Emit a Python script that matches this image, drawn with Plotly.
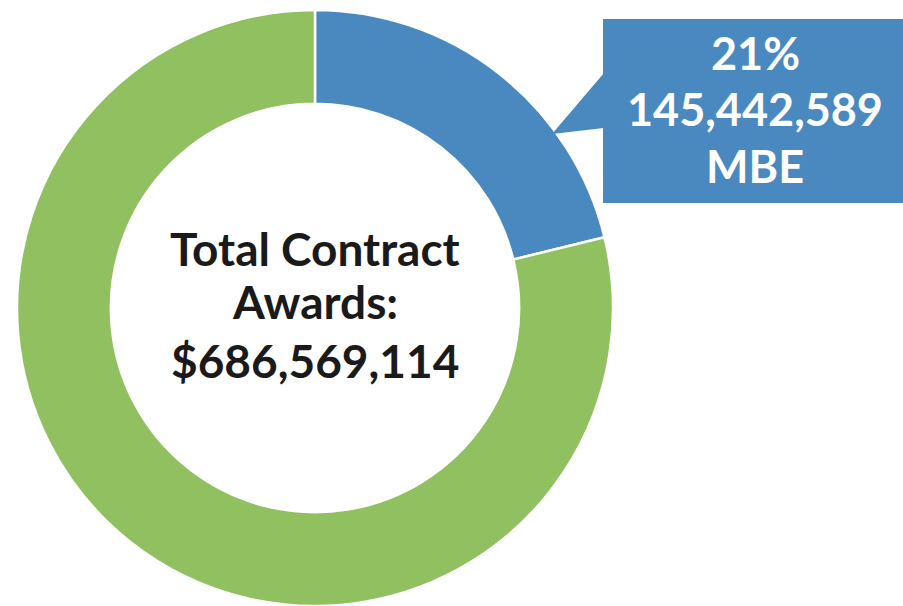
import plotly.graph_objects as go

categories = ["MBE", "Other"]
values = [145442589, 541126525]
colors = ["#4a89c0", "#91c061"]
center_lines = ["Total Contract", "Awards:", "$686,569,114"]
callout_lines = ["21%", "145,442,589", "MBE"]

W, H = 903, 606

def px(x):
    return x / W

def py(y):
    return 1 - y / H

fig = go.Figure()
fig.add_trace(go.Pie(
    labels=categories,
    values=values,
    hole=0.685,
    sort=False,
    direction="clockwise",
    rotation=0,
    marker=dict(colors=colors, line=dict(color="white", width=2.5)),
    textinfo="none",
    hoverinfo="label+value+percent",
    showlegend=False,
    domain=dict(x=[px(17), px(613)], y=[py(606), py(10)]),
))

blue = colors[0]
fig.add_shape(type="rect", xref="paper", yref="paper",
              x0=px(603), x1=px(903), y0=py(203), y1=py(19),
              fillcolor=blue, line=dict(width=0), layer="above")
fig.add_shape(type="path", xref="paper", yref="paper",
              path=f"M {px(604)},{py(73)} L {px(552)},{py(134)} L {px(604)},{py(128)} Z",
              fillcolor=blue, line=dict(width=0), layer="above")

for t, yc in zip(callout_lines, [53, 109, 166]):
    fig.add_annotation(x=px(755), y=py(yc), xref="paper", yref="paper",
                       text=f"<b>{t}</b>", showarrow=False,
                       xanchor="center", yanchor="middle",
                       font=dict(family="Lato", size=45, color="white"))

for t, yc in zip(center_lines, [249, 302, 360]):
    fig.add_annotation(x=px(315), y=py(yc), xref="paper", yref="paper",
                       text=f"<b>{t}</b>", showarrow=False,
                       xanchor="center", yanchor="middle",
                       font=dict(family="Lato", size=46, color="#1a1a1a"))

fig.update_layout(width=W, height=H, margin=dict(l=0, r=0, t=0, b=0),
                  paper_bgcolor="white", plot_bgcolor="white")
fig.write_html("out.html", config={"displayModeBar": False},
               post_script="document.body.style.margin='0';document.body.style.overflow='hidden';")
